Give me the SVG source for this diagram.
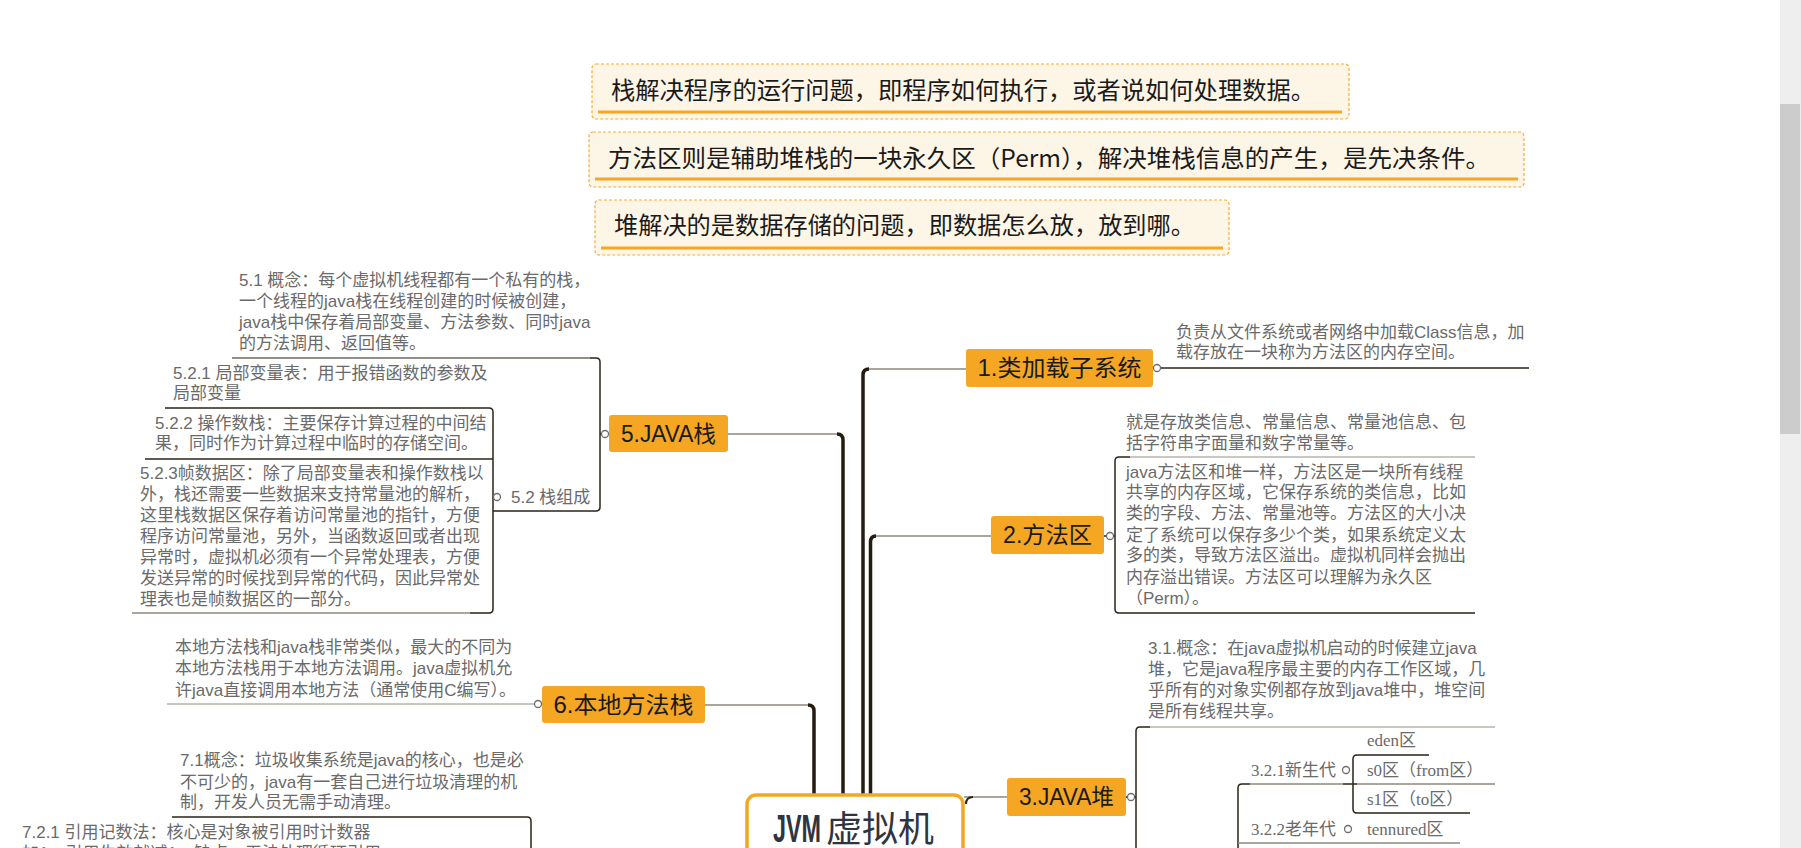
<svg xmlns="http://www.w3.org/2000/svg" width="1801" height="848" viewBox="0 0 1801 848">
<style>
.note{fill:#fdf5e6;stroke:#f5ad3a;stroke-width:1.2;stroke-dasharray:3 2}
.noteline{stroke:#f5a623;stroke-width:3;fill:none}
.notetext{font-family:"Noto Sans CJK SC","Liberation Sans",sans-serif;font-size:24px;fill:#1a1a1a}
.box{fill:#f5a623}
.label{font-family:"Liberation Sans","Noto Sans CJK SC",sans-serif;font-size:23px;fill:#1a1a1a;text-anchor:middle}
.grey{font-family:"Liberation Sans","Noto Sans CJK SC",sans-serif;font-size:17px;fill:#6a6a6a}
.serif{font-family:"Liberation Serif","Noto Sans CJK SC",serif;font-size:17px;fill:#6a6a6a}
.trunk{stroke:#241c10;stroke-width:3.5;fill:none}
.branch{stroke:#8f887d;stroke-width:1.6;fill:none}
.dark{stroke:#2b2418;stroke-width:1.5;fill:none}
.mid{stroke:#6f685d;stroke-width:1.5;fill:none}
.light{stroke:#b8b3ab;stroke-width:1.5;fill:none}
.knob{fill:#fff;stroke:#6d6d6d;stroke-width:1.3}
</style>
<rect width="1801" height="848" fill="#ffffff"/>

<g id="connectors">
  <path class="trunk" d="M814 795 V711 Q814 705 808 705"/>
  <path class="branch" d="M705 705 H808"/>
  <path class="trunk" d="M843 795 V440 Q843 434 837 434"/>
  <path class="branch" d="M728 434 H837"/>
  <path class="trunk" d="M863 795 V375 Q863 369 869 369"/>
  <path class="branch" d="M869 369 H966"/>
  <path class="trunk" d="M870.5 795 V542 Q870.5 536 876 536"/>
  <path class="branch" d="M876 536 H991"/>
  <path class="branch" d="M964 797 H1007"/>
  <path class="dark" style="stroke-width:2" d="M966 804 Q966 797 973 797"/>

  <path class="dark" d="M600 434 H609"/>
  <path class="mid" d="M232 358 H590"/>
  <path class="dark" d="M590 358 H596 Q600 358 600 362 V507 Q600 511 596 511 H493"/>
  <path class="dark" d="M165 408 H489 Q493 408 493 412 V609 Q493 613 489 613 H470"/>
  <path class="branch" d="M470 613 H132"/>
  <path class="dark" d="M145 459 H493"/>
  <path class="light" d="M167 704 H534"/>
  <path class="dark" d="M172 817 H527 Q531 817 531 821 V848"/>

  <path class="dark" d="M1153 368 H1529"/>
  <path class="dark" d="M1104 536 H1115"/>
  <path class="light" d="M1475 457 H1130"/>
  <path class="dark" d="M1130 457 H1119 Q1115 457 1115 461 V609 Q1115 613 1119 613 H1475"/>
  <path class="dark" d="M1126 797 H1136"/>
  <path class="light" d="M1495 727 H1150"/>
  <path class="dark" d="M1150 727 H1140 Q1136 727 1136 731 V848"/>
  <path class="dark" d="M1238 848 V788 Q1238 784 1242 784 H1250"/>
  <path class="branch" d="M1250 784 H1343"/>
  <path class="dark" d="M1343 784 H1357"/>
  <path class="branch" d="M1238 843 H1460"/>
  <path class="dark" d="M1429 755 H1357 Q1353 755 1353 759 V809 Q1353 813 1357 813 H1470"/>
  <path class="branch" d="M1357 784 H1495"/>
</g>

<g id="note-stack">
  <rect class="note" x="592" y="64" width="757" height="55" rx="4"/>
  <line class="noteline" x1="598" y1="112" x2="1342" y2="112"/>
  <text class="notetext" x="611" y="99" textLength="704" lengthAdjust="spacingAndGlyphs">栈解决程序的运行问题，即程序如何执行，或者说如何处理数据。</text>
</g>
<g id="note-method">
  <rect class="note" x="589" y="132" width="935" height="55" rx="4"/>
  <line class="noteline" x1="595" y1="179" x2="1518" y2="179"/>
  <text class="notetext" x="608" y="167" textLength="882" lengthAdjust="spacingAndGlyphs">方法区则是辅助堆栈的一块永久区（Perm），解决堆栈信息的产生，是先决条件。</text>
</g>
<g id="note-heap">
  <rect class="note" x="595" y="200" width="634" height="55" rx="4"/>
  <line class="noteline" x1="601" y1="248" x2="1223" y2="248"/>
  <text class="notetext" x="614" y="234" textLength="581" lengthAdjust="spacingAndGlyphs">堆解决的是数据存储的问题，即数据怎么放，放到哪。</text>
</g>

<g id="jvm">
  <rect x="747" y="795" width="216" height="80" rx="9" fill="#ffffff" stroke="#f5a623" stroke-width="3.5"/>
  <text transform="translate(773 842) scale(0.6 1)" x="0" y="0" font-family="Liberation Sans,sans-serif" font-weight="bold" font-size="39" fill="#2f3441">JVM</text>
  <text x="826" y="842" font-family="Noto Sans CJK SC,sans-serif" font-size="36" fill="#2f3441">虚拟机</text>
</g>

<g id="n5">
  <rect class="box" x="609" y="415" width="119" height="37" rx="3"/>
  <text class="label" x="668.5" y="442" textLength="95" lengthAdjust="spacingAndGlyphs">5.JAVA栈</text>
  <circle class="knob" cx="605" cy="434" r="3.5"/>
</g>
<g id="n5-1">
  <text class="grey" x="239" y="286">5.1 概念：每个虚拟机线程都有一个私有的栈，</text>
  <text class="grey" x="239" y="307">一个线程的java栈在线程创建的时候被创建，</text>
  <text class="grey" x="239" y="328">java栈中保存着局部变量、方法参数、同时java</text>
  <text class="grey" x="239" y="349">的方法调用、返回值等。</text>
</g>
<g id="n5-2">
  <text class="grey" x="511" y="503">5.2 栈组成</text>
  <circle class="knob" cx="497" cy="497" r="3.5"/>
</g>
<g id="n5-2-1">
  <text class="grey" x="173" y="379">5.2.1 局部变量表：用于报错函数的参数及</text>
  <text class="grey" x="173" y="399">局部变量</text>
</g>
<g id="n5-2-2">
  <text class="grey" x="155" y="429">5.2.2 操作数栈：主要保存计算过程的中间结</text>
  <text class="grey" x="155" y="449">果，同时作为计算过程中临时的存储空间。</text>
</g>
<g id="n5-2-3">
  <text class="grey" x="140" y="479">5.2.3帧数据区：除了局部变量表和操作数栈以</text>
  <text class="grey" x="140" y="500">外，栈还需要一些数据来支持常量池的解析，</text>
  <text class="grey" x="140" y="521">这里栈数据区保存着访问常量池的指针，方便</text>
  <text class="grey" x="140" y="542">程序访问常量池，另外，当函数返回或者出现</text>
  <text class="grey" x="140" y="563">异常时，虚拟机必须有一个异常处理表，方便</text>
  <text class="grey" x="140" y="584">发送异常的时候找到异常的代码，因此异常处</text>
  <text class="grey" x="140" y="605">理表也是帧数据区的一部分。</text>
</g>

<g id="n6">
  <rect class="box" x="542" y="686" width="163" height="37" rx="3"/>
  <text class="label" x="623.5" y="713" textLength="140" lengthAdjust="spacingAndGlyphs">6.本地方法栈</text>
  <circle class="knob" cx="538" cy="704" r="3.5"/>
</g>
<g id="n6-1">
  <text class="grey" x="175" y="653">本地方法栈和java栈非常类似，最大的不同为</text>
  <text class="grey" x="175" y="674">本地方法栈用于本地方法调用。java虚拟机允</text>
  <text class="grey" x="175" y="696">许java直接调用本地方法（通常使用C编写）。</text>
</g>

<g id="n7-1">
  <text class="grey" x="180" y="766">7.1概念：垃圾收集系统是java的核心，也是必</text>
  <text class="grey" x="180" y="788">不可少的，java有一套自己进行垃圾清理的机</text>
  <text class="grey" x="180" y="808">制，开发人员无需手动清理。</text>
</g>
<g id="n7-2-1">
  <text class="grey" x="22" y="838">7.2.1 引用记数法：核心是对象被引用时计数器</text>
  <text class="grey" x="22" y="859">加1，引用失效就减1，缺点：无法处理循环引用</text>
</g>

<g id="n1">
  <rect class="box" x="966" y="349" width="187" height="38" rx="3"/>
  <text class="label" x="1059.5" y="376" textLength="164" lengthAdjust="spacingAndGlyphs">1.类加载子系统</text>
  <circle class="knob" cx="1157" cy="368" r="3.5"/>
</g>
<g id="n1-1">
  <text class="grey" x="1176" y="338">负责从文件系统或者网络中加载Class信息，加</text>
  <text class="grey" x="1176" y="358">载存放在一块称为方法区的内存空间。</text>
</g>

<g id="n2">
  <rect class="box" x="991" y="516" width="113" height="38" rx="3"/>
  <text class="label" x="1047.5" y="543" textLength="89" lengthAdjust="spacingAndGlyphs">2.方法区</text>
  <circle class="knob" cx="1110" cy="536" r="3.5"/>
</g>
<g id="n2-1">
  <text class="grey" x="1126" y="428">就是存放类信息、常量信息、常量池信息、包</text>
  <text class="grey" x="1126" y="449">括字符串字面量和数字常量等。</text>
</g>
<g id="n2-2">
  <text class="grey" x="1126" y="478">java方法区和堆一样，方法区是一块所有线程</text>
  <text class="grey" x="1126" y="498">共享的内存区域，它保存系统的类信息，比如</text>
  <text class="grey" x="1126" y="519">类的字段、方法、常量池等。方法区的大小决</text>
  <text class="grey" x="1126" y="541">定了系统可以保存多少个类，如果系统定义太</text>
  <text class="grey" x="1126" y="561">多的类，导致方法区溢出。虚拟机同样会抛出</text>
  <text class="grey" x="1126" y="583">内存溢出错误。方法区可以理解为永久区</text>
  <text class="grey" x="1126" y="604">（Perm）。</text>
</g>

<g id="n3">
  <rect class="box" x="1007" y="778" width="119" height="38" rx="3"/>
  <text class="label" x="1066.5" y="805" textLength="95" lengthAdjust="spacingAndGlyphs">3.JAVA堆</text>
  <circle class="knob" cx="1131" cy="797" r="3.5"/>
</g>
<g id="n3-1">
  <text class="grey" x="1148" y="654">3.1.概念：在java虚拟机启动的时候建立java</text>
  <text class="grey" x="1148" y="675">堆，它是java程序最主要的内存工作区域，几</text>
  <text class="grey" x="1148" y="696">乎所有的对象实例都存放到java堆中，堆空间</text>
  <text class="grey" x="1148" y="717">是所有线程共享。</text>
</g>
<g id="n3-2-1">
  <text class="serif" x="1251" y="776">3.2.1新生代</text>
  <circle class="knob" cx="1346" cy="770" r="3.5"/>
</g>
<g id="n-eden"><text class="serif" x="1367" y="746">eden区</text></g>
<g id="n-s0"><text class="serif" x="1367" y="776">s0区（from区）</text></g>
<g id="n-s1"><text class="serif" x="1367" y="805">s1区（to区）</text></g>
<g id="n3-2-2">
  <text class="serif" x="1251" y="835">3.2.2老年代</text>
  <circle class="knob" cx="1348" cy="829" r="3.5"/>
</g>
<g id="n-tenured"><text class="serif" x="1367" y="835">tennured区</text></g>

<g id="scrollbar">
  <rect x="1780" y="0" width="21" height="848" fill="#eeeeee"/>
  <rect x="1780" y="104" width="20" height="330" fill="#cccccc"/>
</g>
</svg>
